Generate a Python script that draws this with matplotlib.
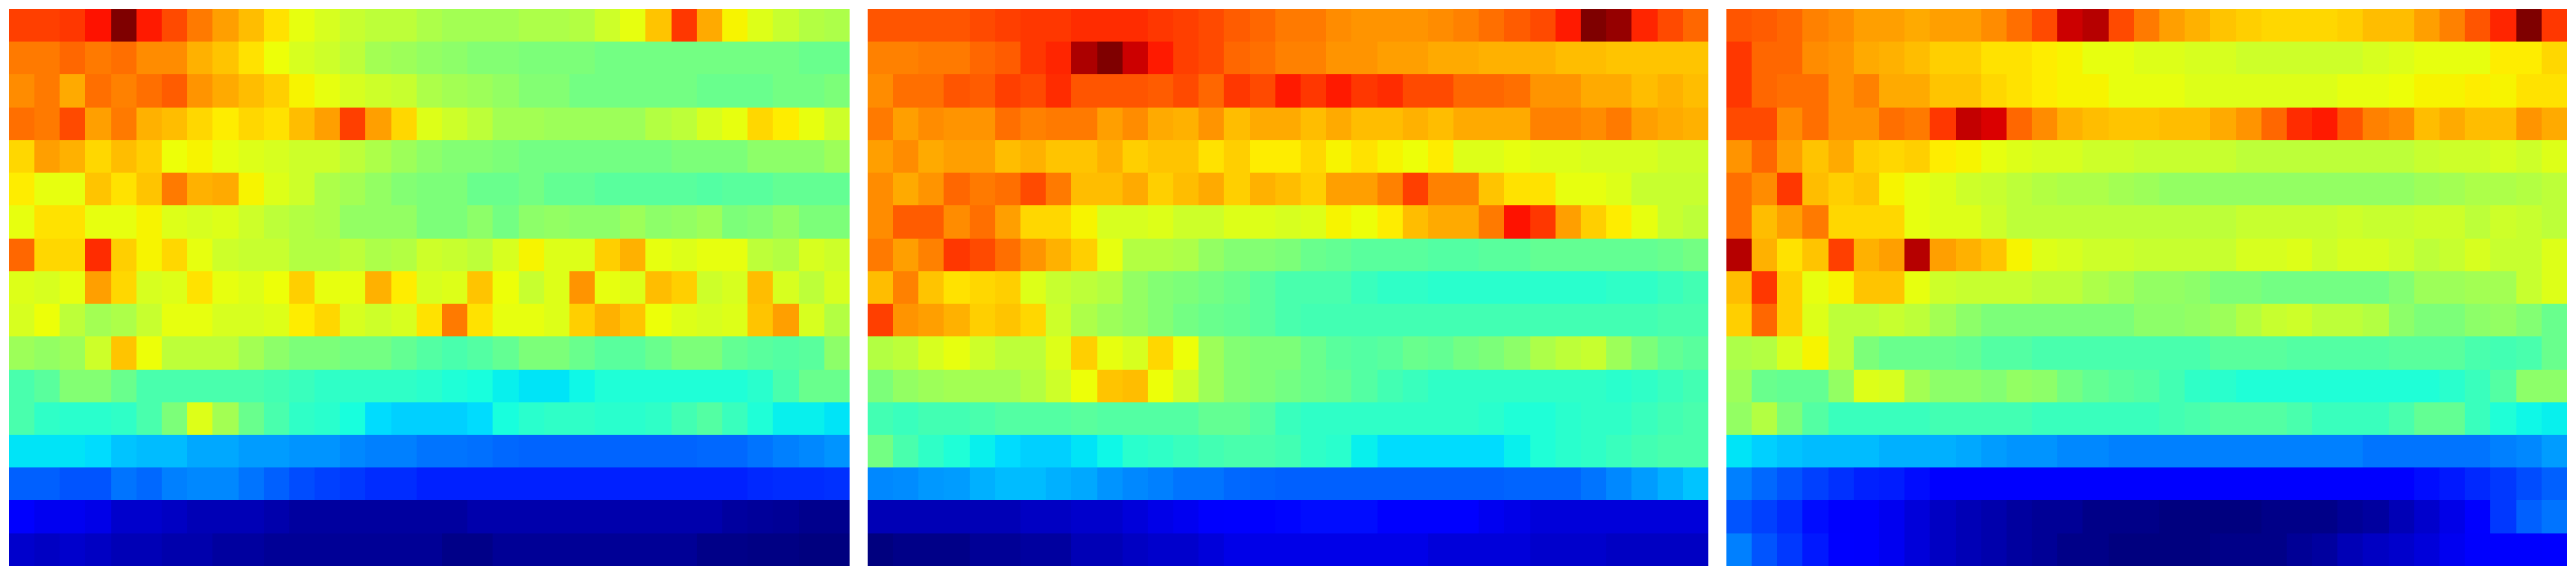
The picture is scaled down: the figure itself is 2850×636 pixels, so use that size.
import numpy as np
import matplotlib
matplotlib.use("Agg")
import matplotlib.pyplot as plt

panel_a = [
[.84,.84,.85,.89,1.0,.88,.83,.78,.74,.71,.67,.63,.61,.59,.58,.58,.56,.55,.55,.55,.56,.56,.57,.60,.63,.70,.85,.73,.65,.62,.59,.57,.56],
[.78,.78,.80,.78,.79,.76,.76,.72,.70,.67,.64,.61,.60,.58,.55,.54,.53,.52,.51,.51,.50,.50,.50,.49,.49,.49,.49,.49,.49,.49,.49,.48,.48],
[.76,.78,.73,.79,.77,.79,.81,.75,.73,.71,.69,.65,.63,.61,.60,.59,.56,.55,.54,.53,.51,.51,.49,.49,.49,.49,.49,.48,.48,.48,.49,.49,.50],
[.79,.78,.83,.74,.78,.72,.71,.68,.66,.68,.67,.71,.74,.84,.74,.68,.62,.60,.58,.55,.55,.54,.54,.54,.54,.57,.58,.61,.63,.68,.66,.63,.60],
[.68,.74,.72,.68,.71,.69,.64,.65,.63,.62,.61,.60,.60,.58,.56,.54,.52,.51,.51,.50,.49,.49,.49,.49,.49,.49,.50,.50,.50,.52,.52,.52,.54],
[.66,.63,.63,.70,.67,.70,.78,.72,.73,.65,.62,.60,.56,.55,.53,.51,.50,.50,.48,.48,.49,.47,.47,.46,.46,.46,.46,.45,.46,.46,.47,.47,.47],
[.63,.67,.67,.63,.63,.65,.62,.61,.62,.60,.58,.57,.56,.53,.53,.53,.50,.50,.52,.49,.52,.53,.52,.52,.54,.52,.53,.54,.50,.51,.53,.50,.50],
[.80,.68,.68,.86,.69,.65,.68,.63,.60,.59,.59,.57,.57,.58,.56,.57,.60,.59,.58,.61,.65,.62,.62,.69,.72,.63,.62,.63,.63,.58,.57,.61,.60],
[.62,.61,.63,.74,.68,.61,.62,.67,.63,.62,.64,.69,.63,.63,.72,.66,.61,.62,.70,.64,.59,.62,.75,.63,.62,.71,.69,.60,.61,.71,.61,.58,.61],
[.61,.64,.58,.55,.56,.59,.63,.63,.61,.61,.62,.66,.68,.61,.60,.61,.67,.78,.67,.63,.63,.62,.69,.72,.70,.64,.62,.61,.62,.70,.74,.61,.57],
[.54,.53,.54,.60,.70,.64,.58,.58,.58,.55,.52,.50,.50,.49,.49,.47,.45,.44,.45,.47,.50,.50,.48,.46,.46,.48,.50,.50,.47,.46,.45,.46,.52],
[.44,.46,.51,.51,.48,.44,.44,.44,.44,.44,.43,.42,.41,.41,.41,.41,.40,.39,.38,.36,.35,.35,.37,.39,.39,.39,.39,.39,.39,.40,.44,.48,.48],
[.44,.41,.40,.40,.41,.44,.50,.62,.55,.48,.44,.41,.40,.38,.34,.33,.33,.33,.34,.38,.40,.41,.41,.40,.40,.41,.43,.45,.42,.39,.36,.36,.35],
[.35,.35,.35,.34,.32,.31,.31,.29,.29,.28,.28,.27,.27,.26,.25,.25,.24,.24,.235,.23,.225,.225,.225,.225,.225,.225,.225,.23,.23,.24,.25,.26,.27],
[.22,.22,.21,.21,.24,.23,.25,.26,.26,.24,.22,.20,.19,.18,.17,.17,.16,.16,.16,.16,.16,.16,.16,.16,.16,.16,.16,.16,.16,.165,.17,.17,.175],
[.11,.10,.10,.09,.07,.07,.06,.05,.05,.05,.04,.03,.03,.03,.03,.03,.03,.03,.04,.04,.04,.04,.04,.04,.04,.04,.04,.04,.03,.025,.02,.015,.015],
[.07,.06,.07,.06,.05,.05,.04,.04,.03,.03,.02,.02,.02,.02,.02,.02,.02,.01,.01,.02,.02,.02,.02,.02,.02,.02,.02,.01,.01,.005,.005,0,0],
]

panel_b = [
[.82,.82,.82,.82,.83,.84,.85,.85,.86,.86,.86,.85,.84,.83,.81,.80,.78,.78,.76,.75,.75,.75,.76,.77,.79,.81,.83,.88,1.0,.98,.87,.83,.80],
[.77,.77,.78,.78,.80,.81,.85,.87,.96,1.0,.93,.88,.84,.83,.80,.79,.77,.77,.75,.75,.74,.74,.73,.73,.72,.72,.72,.71,.71,.70,.70,.70,.70],
[.76,.79,.79,.82,.81,.84,.83,.86,.82,.82,.82,.81,.83,.80,.85,.83,.88,.85,.88,.85,.86,.83,.83,.80,.80,.79,.75,.75,.73,.73,.71,.72,.71],
[.78,.74,.76,.75,.75,.79,.77,.78,.78,.74,.76,.73,.72,.75,.71,.73,.73,.71,.73,.71,.71,.72,.71,.73,.73,.73,.77,.77,.76,.78,.74,.73,.72],
[.74,.76,.73,.74,.74,.71,.72,.70,.70,.72,.69,.70,.70,.67,.69,.66,.66,.68,.65,.67,.65,.64,.66,.62,.62,.63,.62,.62,.61,.61,.61,.60,.60],
[.76,.73,.75,.80,.78,.79,.83,.78,.71,.71,.73,.69,.71,.73,.69,.72,.71,.69,.74,.74,.77,.84,.77,.77,.70,.67,.67,.63,.63,.62,.59,.59,.59],
[.76,.81,.81,.76,.79,.74,.68,.68,.65,.61,.61,.62,.60,.60,.62,.62,.61,.62,.65,.64,.66,.71,.73,.73,.78,.89,.85,.74,.69,.66,.63,.59,.58],
[.78,.74,.77,.85,.83,.79,.75,.72,.69,.63,.57,.57,.56,.53,.51,.51,.50,.48,.47,.46,.46,.46,.45,.45,.46,.46,.47,.47,.47,.47,.47,.48,.49],
[.71,.77,.70,.67,.68,.69,.62,.59,.58,.57,.53,.51,.50,.49,.48,.46,.44,.44,.44,.42,.41,.41,.40,.40,.40,.40,.40,.40,.40,.41,.41,.42,.43],
[.84,.75,.74,.72,.69,.70,.68,.60,.56,.54,.53,.51,.49,.48,.47,.46,.44,.43,.43,.43,.43,.43,.43,.43,.43,.43,.43,.43,.43,.43,.43,.44,.44],
[.57,.58,.61,.63,.60,.58,.58,.62,.69,.63,.61,.68,.64,.54,.51,.50,.50,.48,.46,.45,.46,.48,.47,.49,.50,.52,.56,.58,.59,.54,.50,.47,.46],
[.50,.53,.54,.55,.55,.55,.57,.60,.64,.70,.71,.64,.60,.54,.51,.50,.49,.48,.47,.45,.43,.42,.41,.41,.41,.41,.41,.41,.41,.40,.41,.42,.43],
[.43,.42,.43,.43,.44,.45,.45,.45,.46,.45,.45,.45,.45,.47,.47,.45,.42,.41,.41,.41,.41,.41,.41,.41,.40,.39,.39,.40,.41,.41,.42,.43,.44],
[.49,.44,.41,.39,.36,.34,.33,.33,.35,.37,.40,.41,.42,.43,.44,.44,.43,.41,.40,.36,.34,.34,.34,.34,.34,.36,.39,.40,.41,.42,.43,.44,.44],
[.26,.265,.275,.28,.30,.31,.31,.30,.29,.27,.26,.25,.24,.24,.23,.225,.22,.22,.22,.22,.22,.22,.22,.22,.22,.225,.225,.225,.24,.26,.28,.30,.32],
[.05,.05,.05,.05,.05,.05,.06,.06,.07,.07,.08,.09,.10,.11,.125,.125,.13,.14,.14,.14,.125,.125,.12,.12,.10,.09,.08,.08,.08,.08,.08,.08,.08],
[.00,.01,.01,.01,.02,.02,.03,.03,.05,.05,.06,.07,.07,.08,.09,.09,.09,.09,.09,.09,.09,.09,.08,.08,.08,.08,.07,.07,.07,.06,.06,.06,.06],
]

panel_c = [
[.82,.81,.80,.77,.76,.74,.74,.73,.74,.74,.76,.79,.83,.93,.95,.83,.78,.74,.72,.70,.69,.68,.68,.68,.69,.71,.71,.74,.77,.82,.87,1.0,.85],
[.85,.80,.80,.76,.75,.73,.72,.71,.69,.69,.67,.67,.66,.65,.63,.63,.62,.62,.61,.61,.60,.60,.60,.60,.60,.61,.62,.63,.63,.63,.66,.66,.68],
[.85,.80,.79,.79,.75,.77,.73,.73,.70,.70,.68,.67,.66,.65,.65,.63,.63,.63,.62,.62,.62,.62,.62,.62,.63,.63,.64,.65,.65,.66,.65,.67,.67],
[.83,.83,.76,.79,.75,.75,.79,.78,.85,.94,.92,.80,.76,.72,.71,.70,.70,.71,.71,.73,.75,.80,.86,.88,.82,.77,.76,.71,.73,.71,.71,.75,.73],
[.75,.80,.74,.70,.73,.69,.68,.69,.66,.65,.63,.62,.61,.61,.60,.60,.59,.59,.59,.59,.58,.58,.58,.58,.58,.58,.58,.59,.60,.60,.61,.60,.62],
[.79,.76,.85,.71,.69,.70,.65,.63,.62,.60,.59,.58,.57,.56,.56,.55,.54,.53,.53,.53,.53,.53,.53,.53,.53,.53,.53,.54,.55,.56,.56,.57,.58],
[.79,.71,.74,.78,.68,.68,.68,.63,.62,.62,.60,.58,.58,.58,.58,.58,.58,.58,.58,.58,.59,.59,.59,.59,.60,.59,.59,.60,.60,.58,.60,.59,.58],
[.95,.72,.67,.70,.84,.72,.74,.95,.74,.72,.70,.65,.62,.61,.60,.60,.59,.59,.59,.59,.61,.61,.62,.60,.61,.61,.60,.58,.59,.61,.59,.59,.62],
[.71,.85,.69,.63,.65,.70,.70,.63,.60,.59,.59,.59,.58,.58,.56,.55,.53,.53,.52,.50,.50,.49,.49,.49,.49,.49,.51,.54,.54,.55,.55,.59,.62],
[.69,.80,.69,.62,.58,.58,.59,.58,.55,.52,.50,.50,.50,.50,.50,.50,.52,.52,.53,.54,.57,.59,.60,.58,.58,.57,.52,.50,.50,.52,.53,.51,.48],
[.56,.57,.61,.65,.58,.50,.48,.48,.48,.47,.45,.45,.44,.44,.44,.44,.44,.44,.44,.46,.46,.46,.45,.45,.45,.45,.46,.46,.46,.44,.43,.44,.48],
[.54,.48,.47,.47,.53,.62,.61,.55,.52,.52,.51,.53,.52,.49,.47,.46,.45,.43,.41,.40,.39,.39,.39,.39,.39,.39,.39,.39,.40,.42,.45,.52,.52],
[.53,.57,.50,.45,.42,.42,.42,.42,.43,.43,.43,.43,.42,.42,.42,.42,.42,.43,.44,.45,.45,.45,.44,.42,.42,.42,.44,.47,.47,.42,.39,.37,.36],
[.35,.33,.32,.31,.31,.31,.30,.30,.30,.29,.28,.27,.27,.26,.26,.25,.25,.25,.25,.25,.25,.25,.25,.25,.25,.24,.24,.24,.24,.24,.25,.26,.28],
[.25,.23,.21,.19,.175,.16,.155,.14,.125,.12,.12,.12,.12,.12,.12,.12,.12,.12,.12,.12,.12,.12,.12,.12,.12,.12,.12,.14,.15,.165,.18,.20,.22],
[.21,.19,.17,.14,.11,.11,.10,.08,.06,.05,.04,.03,.02,.02,.01,.01,.01,.00,.00,.00,.00,.01,.01,.01,.02,.03,.05,.07,.09,.12,.18,.22,.24],
[.25,.21,.18,.15,.12,.11,.10,.08,.06,.05,.04,.03,.02,.01,.01,.00,.00,.00,.00,.01,.01,.01,.02,.03,.05,.06,.07,.08,.10,.11,.11,.11,.12],
]

panels = [panel_a, panel_b, panel_c]
for p_i, p in enumerate(panels):
    bad = [(i, len(r)) for i, r in enumerate(p) if len(r) != 33]
    if bad or len(p) != 17:
        raise ValueError(f"panel {p_i}: {bad}, rows {len(p)}")

W, H = 2850, 636
lefts = [10, 960, 1910]
width, top, bottom = 929.5, 10, 626

fig = plt.figure(figsize=(W / 100, H / 100), dpi=100, facecolor="white")
for left, p in zip(lefts, panels):
    ax = fig.add_axes([left / W, 1 - bottom / H, width / W, (bottom - top) / H])
    ax.imshow(np.array(p), cmap="jet", vmin=0, vmax=1, aspect="auto", interpolation="nearest")
    ax.axis("off")
fig.savefig("out.png", dpi=100, facecolor="white")
